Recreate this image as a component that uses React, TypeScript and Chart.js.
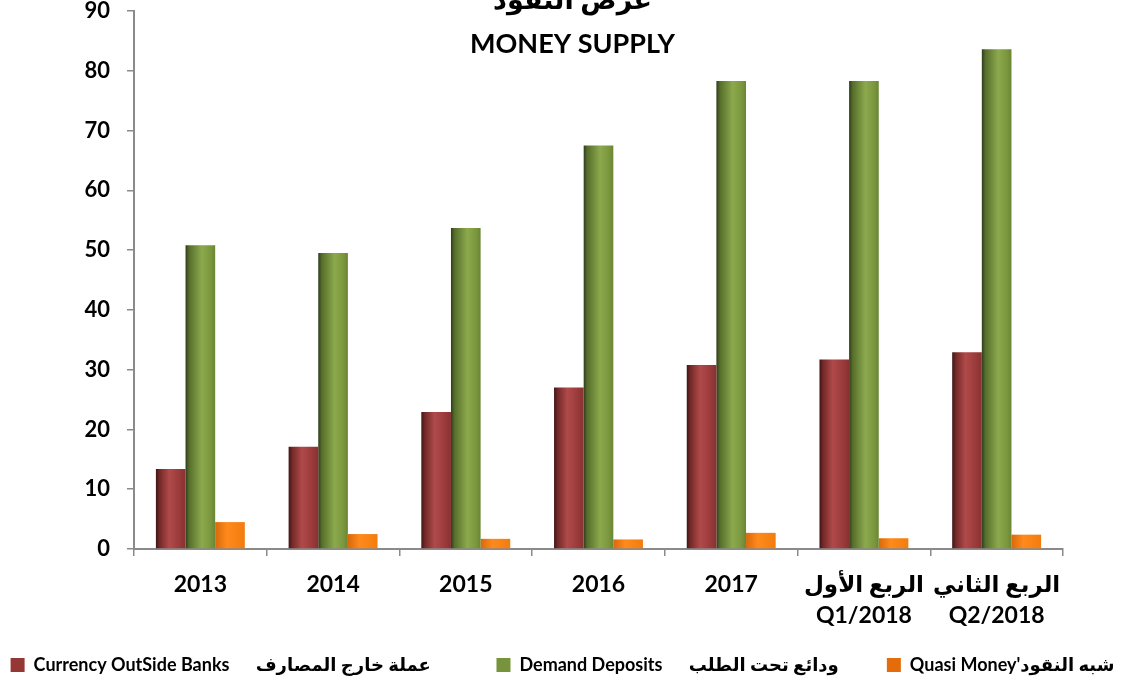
import React, { useEffect, useRef } from "react";
import { Chart, registerables } from "chart.js";

Chart.register(...registerables);

const categories: string[][] = [
  ["2013"],
  ["2014"],
  ["2015"],
  ["2016"],
  ["2017"],
  ["الربع الأول", "Q1/2018"],
  ["الربع الثاني", "Q2/2018"],
];
const currencyOutsideBanks = [13.4, 17.1, 22.9, 27.0, 30.8, 31.7, 32.9];
const demandDeposits = [50.8, 49.5, 53.7, 67.5, 78.3, 78.3, 83.6];
const quasiMoney = [4.5, 2.5, 1.7, 1.6, 2.7, 1.8, 2.4];
const seriesLabels = [
  "Currency OutSide Banks      عملة خارج المصارف",
  "Demand Deposits      ودائع تحت الطلب",
  "Quasi Money'شبه النقود",
];
const titleLines = ["عرض النقود", "MONEY SUPPLY"];
const yMin = 0;
const yMax = 90;
const yStep = 10;

const legendColors = ["#953735", "#77933c", "#e46c0a"];
const gradientStops: [number, string][][] = [
  [[0, "#3e1616"], [0.12, "#732828"], [0.45, "#b04a4a"], [0.8, "#9a3a3a"], [1, "#883131"]],
  [[0, "#2f3c1c"], [0.12, "#566e2b"], [0.55, "#8ca94d"], [0.85, "#7a973e"], [1, "#6a8534"]],
  [[0, "#d8680a"], [0.4, "#ff8a1c"], [1, "#f27c0e"]],
];

const CAT_PCT = 0.67;
const BAR_PCT = 1.0;
const FONT = "Lato, 'DejaVu Sans', sans-serif";
const LEGEND_GAPS = ["               ", "           ", ""];

function barFill(c: any) {
  const ds = c.datasetIndex;
  const chart = c.chart;
  const xs = chart.scales && chart.scales.x;
  if (c.type !== "data" || !xs || !xs.width) return legendColors[ds];
  const n = categories.length;
  const cat = xs.width / n;
  const group = cat * CAT_PCT;
  const slot = group / 3;
  const bw = slot * BAR_PCT;
  const center = xs.getPixelForValue(c.dataIndex);
  const left = center - group / 2 + ds * slot + (slot - bw) / 2;
  const g = chart.ctx.createLinearGradient(left, 0, left + bw, 0);
  gradientStops[ds].forEach(([o, col]) => g.addColorStop(o, col));
  return g;
}

const titlePlugin = {
  id: "twoLineTitle",
  afterDraw(chart: any) {
    const ctx = chart.ctx;
    ctx.save();
    ctx.fillStyle = "#000";
    ctx.textAlign = "center";
    ctx.textBaseline = "alphabetic";
    ctx.font = `bold 27px ${FONT}`;
    const cx = chart.width / 2 + 10;
    ctx.fillText(titleLines[0], cx, 9);
    ctx.fillText(titleLines[1], cx, 53);
    ctx.restore();
  },
};

export default function App() {
  const ref = useRef<HTMLCanvasElement | null>(null);
  useEffect(() => {
    document.body.style.margin = "0";
    const canvas = ref.current;
    if (!canvas) return;
    const seriesValues = [currencyOutsideBanks, demandDeposits, quasiMoney];
    const chart = new Chart(canvas, {
      type: "bar",
      data: {
        labels: categories,
        datasets: seriesValues.map((vals, i) => ({
          label: seriesLabels[i],
          data: vals,
          backgroundColor: barFill,
          borderWidth: 0,
          categoryPercentage: CAT_PCT,
          barPercentage: BAR_PCT,
        })),
      },
      options: {
        responsive: false,
        animation: false,
        layout: { padding: { left: 0, right: 0, top: 11, bottom: -4 } },
        plugins: {
          title: { display: false },
          tooltip: { enabled: false },
          legend: {
            display: true,
            position: "bottom",
            labels: {
              boxWidth: 14,
              boxHeight: 14,
              padding: 0,
              color: "#000",
              font: { family: FONT, size: 18, weight: "bold" },
              generateLabels: () =>
                seriesLabels.map((t, i) => ({
                  text: t + LEGEND_GAPS[i],
                  fillStyle: legendColors[i],
                  strokeStyle: legendColors[i],
                  lineWidth: 0,
                  hidden: false,
                  datasetIndex: i,
                })),
            },
          },
        },
        scales: {
          x: {
            offset: true,
            border: { display: true, color: "#8a8a8a", width: 2 },
            grid: {
              display: true,
              offset: true,
              drawOnChartArea: false,
              drawTicks: true,
              tickLength: 7,
              color: "#8a8a8a",
              lineWidth: 1.5,
            },
            ticks: {
              color: "#000",
              padding: 13,
              maxRotation: 0,
              autoSkip: false,
              font: { family: FONT, size: 23, weight: "bold", lineHeight: 1.35 },
            },
            afterFit: (s: any) => {
              s.height = 107;
              s.paddingLeft = 0;
              s.paddingRight = 62;
            },
          },
          y: {
            min: yMin,
            max: yMax,
            border: { display: true, color: "#8a8a8a", width: 2 },
            grid: {
              display: true,
              drawOnChartArea: false,
              drawTicks: true,
              tickLength: 7,
              color: "#8a8a8a",
              lineWidth: 1.5,
            },
            ticks: {
              stepSize: yStep,
              color: "#000",
              padding: 17,
              font: { family: FONT, size: 22, weight: "bold" },
            },
            afterFit: (s: any) => {
              s.width = 134;
              s.paddingTop = 0;
              s.paddingBottom = 0;
            },
          },
        },
      },
      plugins: [titlePlugin],
    });
    return () => chart.destroy();
  }, []);
  return (
    <div style={{ width: 1125, height: 680 }}>
      <canvas ref={ref} width={1125} height={680} style={{ display: "block" }} />
    </div>
  );
}
